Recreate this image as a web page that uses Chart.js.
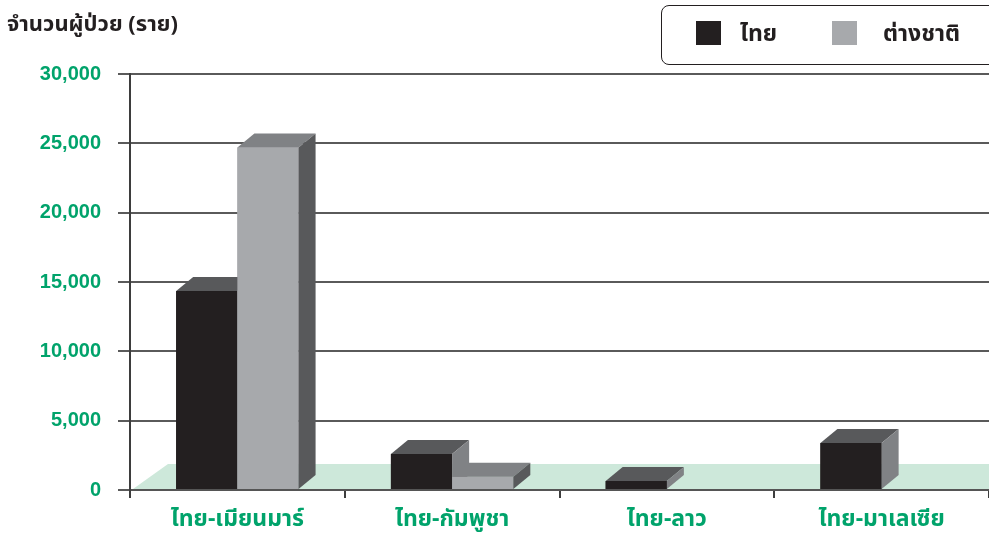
<!DOCTYPE html>
<html>
<head>
<meta charset="utf-8">
<script src="https://cdn.jsdelivr.net/npm/chart.js@4/dist/chart.umd.min.js"></script>
<style>
  html, body { margin: 0; padding: 0; background: #fff; overflow: hidden; }
  #wrap { position: relative; width: 989px; height: 542px; }
  #chart { position: absolute; left: 0; top: 0; }
  .ytitle {
    position: absolute; left: 7px; top: 8px;
    font: bold 22px "Noto Sans Thai", "Noto Sans", "DejaVu Sans", sans-serif;
    color: #231f20; white-space: nowrap;
  }
  .legend {
    position: absolute; left: 661px; top: 5px; width: 360px; height: 60px;
    border: 1.5px solid #231f20; border-radius: 8px; box-sizing: border-box;
  }
  .legend .sw { position: absolute; top: 15px; width: 25px; height: 24px; }
  .legend .lb {
    position: absolute; top: 11px; line-height: 30px;
    font: bold 23px "Noto Sans Thai", "Noto Sans", "DejaVu Sans", sans-serif;
    color: #231f20; white-space: nowrap;
  }
</style>
</head>
<body>
<div id="wrap">
  <canvas id="chart" width="989" height="542"></canvas>
  <div class="ytitle">จำนวนผู้ป่วย (ราย)</div>
  <div class="legend" id="legend"></div>
</div>
<script>
// values
const categories = ['ไทย-เมียนมาร์', 'ไทย-กัมพูชา', 'ไทย-ลาว', 'ไทย-มาเลเซีย'];
const thaiValues    = [14350, 2600, 650, 3390];
const foreignValues = [24700, 950, 0, 0];
const seriesNames   = ['ไทย', 'ต่างชาติ'];
const yTicks        = [0, 5000, 10000, 15000, 20000, 25000, 30000];

const GREEN = '#00a36b';
const FLOOR = '#cde8da';
const THAI_FONT = '"Noto Sans Thai", "Noto Sans", "DejaVu Sans", sans-serif';
// front / top / side shades per series
const FACES = [
  { front: '#231f20', top: '#58595b', side: '#808285' },
  { front: '#a7a9ac', top: '#808285', side: '#58595b' },
];
const DX = 17, DY = 14;   // 3D depth offset

const floorPlugin = {
  id: 'floor',
  beforeDatasetsDraw(chart) {
    const { ctx, chartArea } = chart;
    const y0 = chart.scales.y.getPixelForValue(0) - 1;
    ctx.save();
    ctx.fillStyle = FLOOR;
    ctx.beginPath();
    ctx.moveTo(chartArea.left + 3, y0);
    ctx.lineTo(chartArea.left + 38, y0 - 25);
    ctx.lineTo(chartArea.right, y0 - 25);
    ctx.lineTo(chartArea.right, y0);
    ctx.closePath();
    ctx.fill();
    ctx.restore();
  }
};

// redraw every bar as a box, category by category, so the grey bar hides the black bar's side
const boxPlugin = {
  id: 'box3d',
  afterDatasetsDraw(chart) {
    const ctx = chart.ctx;
    ctx.save();
    categories.forEach((c, i) => {
      chart.data.datasets.forEach((ds, d) => {
        const bar = chart.getDatasetMeta(d).data[i];
        if (!bar) return;
        const { x, y, base, width } = bar.getProps(['x', 'y', 'base', 'width'], true);
        if (base - y < 1) return;
        const l = x - width / 2, r = x + width / 2;
        const f = FACES[d];
        ctx.fillStyle = f.front;
        ctx.fillRect(l, y, width, base - y);
        ctx.fillStyle = f.top;
        ctx.beginPath();
        ctx.moveTo(l, y); ctx.lineTo(l + DX, y - DY);
        ctx.lineTo(r + DX, y - DY); ctx.lineTo(r, y);
        ctx.closePath(); ctx.fill();
        ctx.fillStyle = f.side;
        ctx.beginPath();
        ctx.moveTo(r, y); ctx.lineTo(r + DX, y - DY);
        ctx.lineTo(r + DX, base - DY); ctx.lineTo(r, base);
        ctx.closePath(); ctx.fill();
      });
    });
    ctx.restore();
  }
};

const chart = new Chart(document.getElementById('chart'), {
  type: 'bar',
  data: {
    labels: categories,
    datasets: [
      { label: seriesNames[0], data: thaiValues,    backgroundColor: FACES[0].front },
      { label: seriesNames[1], data: foreignValues, backgroundColor: FACES[1].front },
    ],
  },
  options: {
    responsive: false,
    animation: false,
    events: [],
    categoryPercentage: 0.57,
    barPercentage: 1.0,
    layout: { padding: { top: 74, right: 0, left: 0, bottom: 0 } },
    plugins: {
      legend: { display: false },
      tooltip: { enabled: false },
    },
    scales: {
      x: {
        offset: true,
        grid: { drawOnChartArea: false, drawTicks: true, tickLength: 8, color: '#3d3d3d', lineWidth: 2, offset: true },
        border: { color: '#555', width: 2 },
        ticks: {
          color: GREEN, padding: 10,
          font: { family: THAI_FONT, size: 23, weight: 'bold' },
        },
        afterFit(scale) { scale.height = 52; },
      },
      y: {
        min: 0, max: 30000,
        afterBuildTicks(scale) { scale.ticks = yTicks.map(v => ({ value: v })); },
        grid: { color: '#5a5a5a', lineWidth: 2, tickLength: 12 },
        border: { color: '#3d3d3d', width: 2 },
        ticks: {
          color: GREEN, padding: 17,
          font: { family: '"Liberation Sans", Arial, sans-serif', size: 20, weight: 'bold' },
          callback: v => v.toLocaleString('en-US'),
        },
        afterFit(scale) { scale.width = 130; },
      },
    },
  },
  plugins: [floorPlugin, boxPlugin],
});

// legend built from the datasets
const legend = document.getElementById('legend');
const swX = [34, 170], lbX = [78, 221];
chart.data.datasets.forEach((ds, i) => {
  const sw = document.createElement('div');
  sw.className = 'sw';
  sw.style.left = swX[i] + 'px';
  sw.style.background = ds.backgroundColor;
  const lb = document.createElement('div');
  lb.className = 'lb';
  lb.style.left = lbX[i] + 'px';
  lb.textContent = ds.label;
  legend.appendChild(sw);
  legend.appendChild(lb);
});
</script>
</body>
</html>
